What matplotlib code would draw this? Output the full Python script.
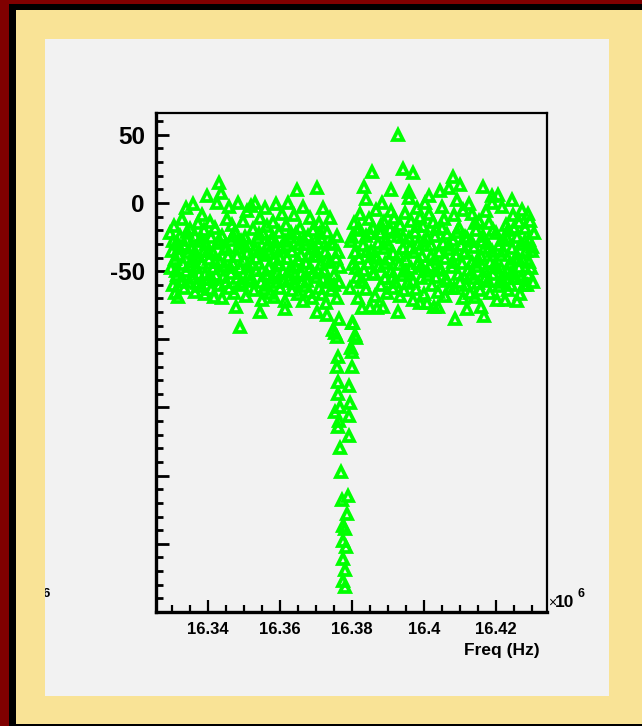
import matplotlib
matplotlib.use('Agg')
import matplotlib.pyplot as plt
from matplotlib.patches import Rectangle
from matplotlib.ticker import MultipleLocator, FixedLocator, FuncFormatter

W, H = 642, 726

# ── data: sweep points, (frequency in kHz, response) ─────────────────────────
left_points = [
    (16329.5, -22), (16329.8, -48), (16330.0, -35), (16330.3, -60), (16330.5, -17), (16330.8, -41), (16331.0, -66), (16331.3, -29),
    (16331.5, -53), (16331.8, -69), (16332.0, -38), (16332.3, -24), (16332.5, -57), (16332.8, -12), (16333.0, -45), (16333.3, -31),
    (16333.5, -62), (16333.8, -4), (16334.0, -50), (16334.3, -27), (16334.5, -36), (16334.8, -58), (16335.0, -19), (16335.3, -43),
    (16335.5, -33), (16335.8, -55), (16336.0, -1), (16336.3, -65), (16336.5, -24), (16336.8, -47), (16337.0, -39), (16337.3, -15),
    (16337.5, -52), (16337.8, -28), (16338.0, -61), (16338.3, -9), (16338.5, -44), (16338.8, -35), (16339.0, -20), (16339.3, -67),
    (16339.5, -30), (16339.8, 5), (16340.0, -56), (16340.3, -41), (16340.5, -14), (16340.8, -63), (16341.0, -25), (16341.3, -48),
    (16341.5, -37), (16341.8, -69), (16342.0, -18), (16342.3, -53), (16342.5, 0), (16342.8, -29), (16343.0, -60), (16343.3, -43),
    (16343.0, 15), (16343.8, -24), (16344.0, -70), (16343.6, 7), (16344.5, -46), (16344.8, -34), (16345.0, -58), (16345.3, -12),
    (16345.5, -39), (16345.8, -3), (16346.0, -62), (16346.3, -27), (16346.5, -51), (16346.8, -16), (16347.0, -44), (16347.3, -66),
    (16347.5, -21), (16347.8, -76), (16348.0, -55), (16348.3, 0), (16348.5, -33), (16348.8, -48), (16348.9, -91), (16349.3, -28),
    (16349.5, -60), (16349.8, -13), (16350.0, -42), (16350.3, -25), (16350.5, -68), (16350.8, -6), (16351.0, -37), (16351.3, -52),
    (16351.5, -31), (16351.8, -57), (16352.0, -2), (16352.3, -45), (16352.5, -19), (16352.8, -64), (16353.0, 0), (16353.3, -40),
    (16353.5, -49), (16353.8, -26), (16354.4, -80), (16354.3, -35), (16354.5, -11), (16354.8, -58), (16355.0, -71), (16355.3, -22),
    (16355.5, -63), (16355.8, -4), (16356.0, -38), (16356.3, -53), (16356.5, -17), (16356.8, -30), (16357.0, -47), (16357.3, -66),
    (16357.5, -27), (16357.8, -55), (16358.0, -14), (16358.3, -69), (16358.5, -41), (16358.8, -1), (16359.0, -34), (16359.3, -58),
    (16359.5, -45), (16359.8, -21), (16360.0, -62), (16360.3, -33), (16360.5, -8), (16360.8, -50), (16361.4, -78), (16361.3, -28),
    (16361.5, -72), (16361.8, -16), (16362.0, -40), (16362.3, 0), (16362.5, -56), (16362.8, -25), (16363.0, -47), (16363.3, -64),
    (16363.5, -35), (16363.8, -59), (16364.0, -9), (16364.3, -46), (16364.5, -22), (16364.7, 9.5), (16365.0, -67), (16365.3, -30),
    (16365.5, -18), (16365.8, -51), (16366.0, -38), (16366.3, -72), (16366.5, -3), (16366.8, -27), (16367.0, -61), (16367.3, -44),
    (16367.5, -57), (16367.8, -24), (16368.0, -65), (16368.3, -11), (16368.5, -48), (16368.8, -33), (16369.0, -70), (16369.3, -20),
    (16369.5, -39), (16370.3, 11), (16370.0, -54), (16370.3, -80), (16370.5, -29), (16370.8, -15), (16371.0, -62), (16371.3, -45),
    (16371.5, -26), (16371.8, -67), (16372.0, -4), (16372.3, -49), (16372.5, -36), (16372.8, -73), (16373.0, -21), (16373.3, -58),
    (16373.0, -82), (16373.8, -11), (16374.0, -43), (16374.3, -64), (16374.7, -93), (16374.8, -30), (16375.0, -53), (16375.8, -98),
    (16375.5, -40), (16375.8, -70), (16376.0, -24), (16376.3, -58), (16376.5, -85), (16376.8, -47),
]

# second sweep pass, filling the dense middle of the band
core_points = [
    (16330.2, -28), (16331.1, -50), (16332.1, -33), (16333.1, -57), (16334.1, -21), (16335.1, -46), (16336.1, -37), (16337.1, -59),
    (16338.1, -26), (16339.1, -52), (16340.1, -35), (16341.1, -56), (16342.1, -43), (16343.1, -27), (16344.1, -54), (16345.1, -32),
    (16346.1, -47), (16347.1, -24), (16348.1, -39), (16349.1, -58), (16350.1, -30), (16351.1, -46), (16352.1, -55), (16353.1, -34),
    (16354.1, -23), (16355.1, -49), (16356.1, -60), (16357.1, -37), (16358.1, -26), (16359.1, -51), (16360.1, -40), (16361.1, -57),
    (16362.1, -31), (16363.1, -22), (16364.1, -53), (16365.1, -42), (16366.1, -58), (16367.1, -30), (16368.1, -38), (16369.1, -51),
    (16370.1, -35), (16371.1, -22), (16372.1, -56), (16373.1, -42), (16374.1, -29), (16375.1, -60), (16376.1, -36),
    (16380.1, -25), (16381.1, -48), (16382.1, -18), (16383.1, -58), (16384.1, -35), (16385.1, -22), (16386.1, -51), (16387.1, -40),
    (16388.1, -16), (16389.1, -44), (16390.1, -30), (16391.1, -55), (16392.1, -21), (16393.1, -38), (16394.1, -25), (16395.1, -50),
    (16396.1, -33), (16397.1, -57), (16398.1, -17), (16399.1, -46), (16400.1, -28), (16401.1, -53), (16402.1, -39), (16403.1, -24),
    (16404.1, -48), (16405.1, -18), (16406.1, -56), (16407.1, -31), (16408.1, -43), (16409.1, -21), (16410.1, -58), (16411.1, -37),
    (16412.1, -26), (16413.1, -52), (16414.1, -15), (16415.1, -41), (16416.1, -28), (16417.1, -55), (16418.1, -33), (16419.1, -20),
    (16420.1, -47), (16421.1, -57), (16422.1, -35), (16423.1, -26), (16424.1, -52), (16425.1, -18), (16426.1, -40), (16427.1, -55),
    (16428.1, -28), (16429.1, -43), (16430.1, -35),
]

dip_points = [
    (16375.3, -95), (16380.0, -88), (16381.1, -99), (16379.7, -106), (16380.0, -109),
    (16376.1, -113), (16375.8, -120), (16380.0, -120), (16376.1, -131), (16379.2, -134),
    (16376.1, -140), (16379.4, -147), (16376.7, -150), (16375.3, -153), (16379.2, -156),
    (16376.4, -160), (16376.1, -164), (16379.2, -171), (16376.7, -180), (16376.9, -197),
    (16377.2, -218), (16378.9, -215), (16378.6, -228), (16377.5, -237), (16378.1, -239),
    (16377.5, -248), (16378.3, -252), (16377.5, -261), (16378.1, -269), (16377.5, -277),
    (16378.1, -282),
]

right_points = [
    (16379.5, -62), (16379.8, -28), (16380.3, -88), (16380.3, -45), (16380.5, -15), (16380.8, -97), (16381.0, -36), (16381.3, -54),
    (16381.5, -20), (16381.8, -70), (16382.0, -40), (16382.3, -8), (16382.5, -57), (16382.8, -77), (16383.0, -31), (16383.3, -49),
    (16383.3, 12), (16383.8, -63), (16384.0, -24), (16384.0, 3), (16384.5, -44), (16384.8, -12), (16385.0, -76), (16385.3, -35),
    (16385.6, 23), (16385.8, -52), (16386.0, -18), (16386.3, -39), (16386.5, -68), (16386.8, -5), (16387.0, -77), (16387.3, -29),
    (16387.5, -46), (16387.8, -22), (16388.0, -60), (16388.3, 0), (16388.6, -76), (16388.8, -33), (16389.0, -14), (16389.3, -55),
    (16389.5, -27), (16389.8, -66), (16390.8, 9.5), (16390.3, -41), (16390.5, -19), (16390.8, -50), (16391.0, -6), (16391.3, -62),
    (16391.5, -37), (16391.8, -11), (16392.0, -58), (16392.8, -80), (16392.8, 50), (16392.8, -24), (16393.0, -45), (16393.3, -68),
    (16393.5, -16), (16394.2, 25), (16394.0, -53), (16394.3, -33), (16394.5, -64), (16394.8, -7), (16395.0, -42), (16396.0, 8),
    (16395.5, -59), (16395.8, -26), (16396.0, 4), (16396.3, -48), (16396.5, -13), (16397.0, 22), (16397.0, -71), (16397.3, -36),
    (16397.5, -21), (16397.8, -63), (16398.0, -4), (16398.3, -44), (16398.5, -30), (16398.8, -73), (16399.0, -10), (16399.3, -55),
    (16399.5, -39), (16399.8, -17), (16400.0, -67), (16400.3, 0), (16400.8, -73), (16400.8, -50), (16401.0, -26), (16401.3, -8),
    (16401.5, 5), (16401.8, -46), (16402.0, -31), (16402.3, -60), (16402.5, -14), (16402.8, -76), (16403.0, -41), (16403.3, -19),
    (16403.5, -54), (16403.9, -76), (16404.0, -65), (16404.3, -36), (16404.4, 9), (16404.8, -49), (16405.0, -3), (16405.3, -29),
    (16405.5, -12), (16405.8, -68), (16406.0, -40), (16406.3, -57), (16406.5, -23), (16407.0, 11), (16407.0, -34), (16407.3, -62),
    (16408.0, 19), (16407.8, -47), (16408.0, -27), (16408.3, -62), (16408.5, -9), (16408.6, -85), (16409.0, -38), (16409.3, 2),
    (16409.5, -52), (16409.8, -18), (16410.0, 13), (16410.3, -31), (16410.5, -44), (16410.8, -5), (16411.0, -70), (16411.3, -25),
    (16411.5, -36), (16411.8, -60), (16412.0, -78), (16412.3, -49), (16412.5, -1), (16412.8, -66), (16413.0, -28), (16413.3, -43),
    (16413.5, -8), (16413.8, -55), (16414.0, -32), (16414.3, -69), (16414.5, -20), (16414.8, -46), (16415.0, -59), (16415.3, -13),
    (16415.5, -64), (16416.4, 12), (16416.0, -39), (16416.0, -76), (16416.5, -24), (16416.7, -83), (16417.0, -50), (16417.3, -6),
    (16417.5, -29), (16417.8, -57), (16418.0, -15), (16418.3, -43), (16418.5, -66), (16418.8, 0), (16419.0, -35), (16419.3, -52),
    (16419.0, 5), (16419.8, -45), (16420.0, -22), (16420.3, -71), (16420.5, 6), (16420.8, -61), (16421.0, -31), (16421.3, -48),
    (16421.5, -38), (16421.8, -3), (16422.0, -58), (16422.3, -27), (16422.5, -71), (16422.8, -16), (16423.0, -50), (16423.3, -64),
    (16423.5, -20), (16424.4, 2), (16424.0, -44), (16424.3, -60), (16424.5, -33), (16424.8, -9), (16425.0, -55), (16425.3, -41),
    (16425.5, -55), (16425.8, -25), (16426.0, -72), (16426.3, -14), (16426.5, -47), (16426.8, -67), (16427.0, -30), (16427.3, -5),
    (16427.5, -42), (16427.8, -60), (16428.0, -18), (16428.3, -35), (16428.6, -60), (16428.8, -8), (16429.0, -52), (16429.3, -27),
    (16429.5, -13), (16429.8, -48), (16430.0, -32), (16430.2, -58), (16430.5, -22),
]

x_ticks = [16.34e6, 16.36e6, 16.38e6, 16.40e6, 16.42e6]
y_ticks = [50, 0, -50, -100, -150, -200, -250, -300]
y_labelled = [50, 0, -50]

GREEN  = '#00FF00'
MAROON = '#800000'
KHAKI  = '#F9E396'
PAD    = '#F2F2F2'

plt.rcParams['font.family'] = ['Liberation Sans', 'DejaVu Sans']
plt.rcParams['font.weight'] = 'bold'

fig = plt.figure(figsize=(W / 100, H / 100), dpi=100, facecolor=MAROON)

def px_rect(x0, y0, x1, y1, color):
    r = Rectangle((x0 / W, 1 - y1 / H), (x1 - x0) / W, (y1 - y0) / H,
                  transform=fig.transFigure, facecolor=color, edgecolor='none', zorder=-10)
    fig.add_artist(r)
    return r

px_rect(9, 4, W + 5, H + 5, 'black')
px_rect(16, 10, W + 5, 724, KHAKI)
pad = px_rect(45, 39, 609, 696, PAD)

ax = fig.add_axes([156 / W, 1 - 612 / H, (547 - 156) / W, (612 - 113) / H])
ax.set_facecolor(PAD)

for pts in (left_points, core_points, dip_points, right_points):
    xs = [p[0] * 1e3 for p in pts]
    ys = [p[1] for p in pts]
    ax.plot(xs, ys, ls='none', marker='^', ms=6.8, mfc='none', mec=GREEN, mew=2.7,
            clip_on=False)

ax.set_xlim(16.3256e6, 16.4342e6)
ax.set_ylim(-300, 66)

ax.xaxis.set_major_locator(FixedLocator(x_ticks))
ax.xaxis.set_minor_locator(MultipleLocator(5e3))
ax.xaxis.set_major_formatter(FuncFormatter(lambda v, p: f'{v / 1e6:g}'))
ax.yaxis.set_major_locator(FixedLocator(y_ticks))
ax.yaxis.set_minor_locator(MultipleLocator(10))
ax.yaxis.set_major_formatter(FuncFormatter(lambda v, p: f'{v:g}' if round(v) in y_labelled else ''))

ax.tick_params(which='both', direction='in', top=False, right=False, color='black')
ax.tick_params(axis='x', which='major', length=9, width=1.6, labelsize=12, pad=7)
ax.tick_params(axis='x', which='minor', length=5, width=1.6)
ax.tick_params(axis='y', which='major', length=9, width=2.0, labelsize=17.5, pad=8)
ax.tick_params(axis='y', which='minor', length=5, width=2.0)
for lbl in ax.get_xticklabels() + ax.get_yticklabels():
    lbl.set_fontweight('bold')

for side in ('left', 'bottom'):
    ax.spines[side].set_linewidth(2.4)
for side in ('top', 'right'):
    ax.spines[side].set_linewidth(1.6)

# axis title and exponent, ROOT style
fig.text(540 / W, 1 - 650 / H, 'Freq (Hz)', ha='right', va='center', fontsize=12.5,
         fontweight='bold')
fig.text(548 / W, 1 - 607 / H, '×', ha='left', va='baseline', fontsize=10,
         fontweight='normal')
fig.text(555 / W, 1 - 607 / H, '10', ha='left', va='baseline', fontsize=12.5,
         fontweight='bold')
fig.text(577 / W, 1 - 597 / H, '6', ha='left', va='baseline', fontsize=9,
         fontweight='bold')
six = fig.text(50 / W, 1 - 597 / H, '6', ha='right', va='baseline', fontsize=9.5,
               fontweight='bold', clip_on=True)
six.set_clip_path(pad)

fig.savefig('out.png', dpi=100, facecolor=MAROON)
